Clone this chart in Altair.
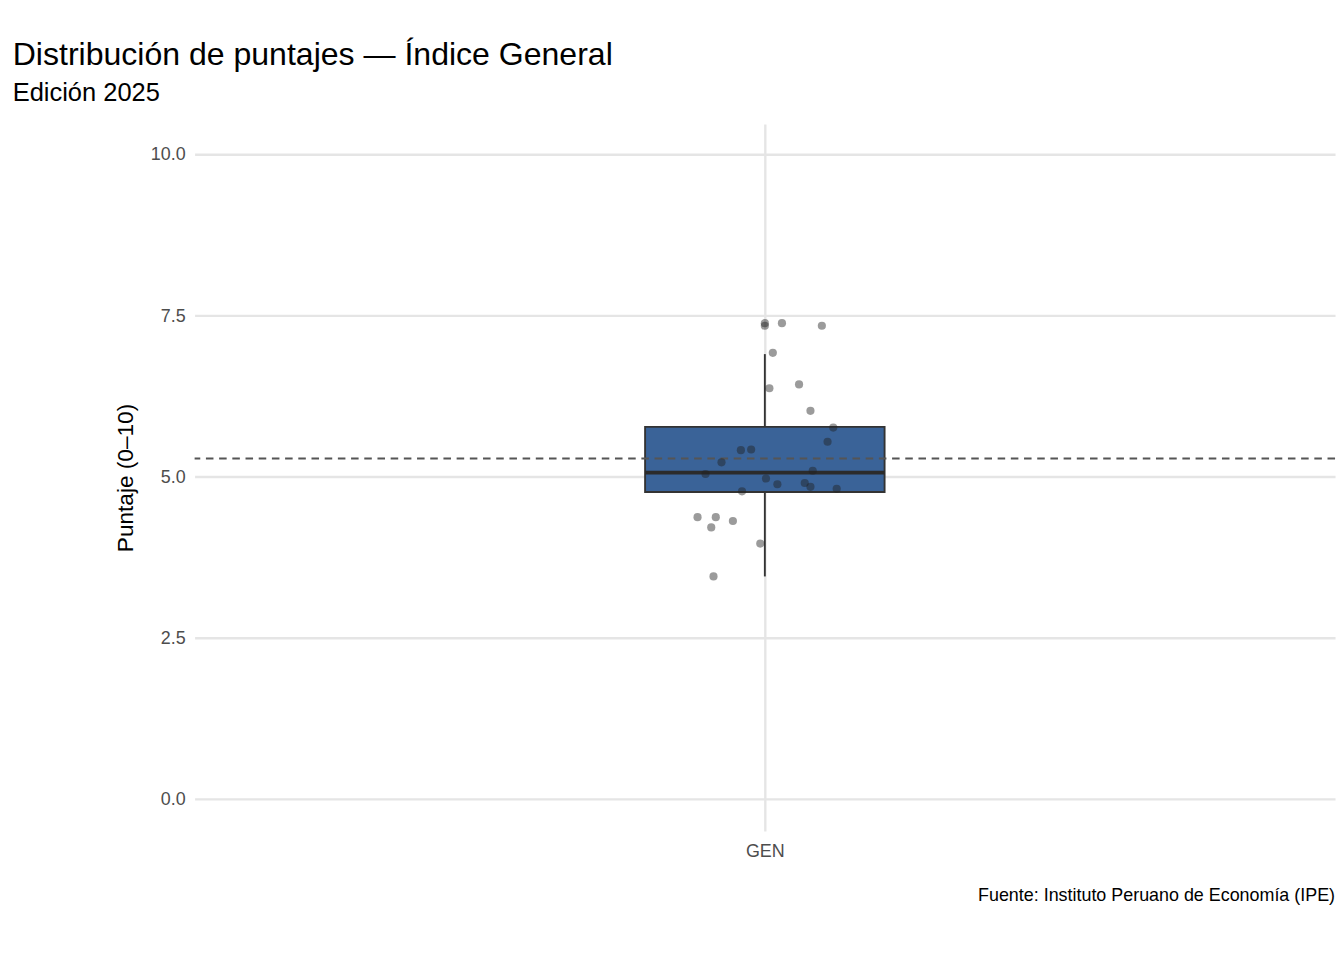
import altair as alt
import pandas as pd

# puntajes (0-10) and horizontal jitter (fraction of the panel width)
scores = [7.38, 7.38, 7.34, 7.34, 6.92, 6.37, 6.43, 6.02, 5.76, 5.54, 5.41, 5.42,
          5.22, 5.04, 5.09, 4.97, 4.88, 4.90, 4.84, 4.81, 4.77, 4.37, 4.37, 4.31,
          4.21, 3.96, 3.45]
jitter = [0.000, 0.015, 0.050, 0.000, 0.007, 0.004, 0.030, 0.040, 0.060, 0.055,
          -0.021, -0.012, -0.038, -0.052, 0.042, 0.001, 0.011, 0.035, 0.040, 0.063,
          -0.020, -0.059, -0.043, -0.028, -0.047, -0.004, -0.045]

# box statistics
box_q1 = [4.76]
box_med = [5.06]
box_q3 = [5.77]
box_lo = [3.45]
box_hi = [6.90]
mean_val = [5.28]

pts = pd.DataFrame({"score": scores, "jx": jitter})
stats = pd.DataFrame({"x0": [-0.105], "x1": [0.105], "xc": [0.0],
                      "q1": box_q1, "med": box_med, "q3": box_q3, "lo": box_lo, "hi": box_hi})
mean_df = pd.DataFrame({"mean": mean_val})

xs = alt.Scale(domain=[-0.5, 0.5], nice=False, zero=False)
ys = alt.Scale(domain=[-0.5, 10.47], nice=False, zero=False)

xaxis = alt.Axis(values=[0], labelExpr="'GEN'", title=None, grid=True, ticks=False,
                 domain=False, labelFontSize=19, labelColor="#4d4d4d", labelPadding=12)
yaxis = alt.Axis(values=[0, 2.5, 5, 7.5, 10], format=".1f", title="Puntaje (0–10)",
                 grid=True, ticks=False, domain=False, labelFontSize=19,
                 labelColor="#4d4d4d", titleFontSize=24, titleFontWeight="normal",
                 titleColor="black", labelPadding=10, titlePadding=14)

base = alt.Chart(stats)
whisk = base.mark_rule(color="#333333", strokeWidth=2).encode(
    x=alt.X("xc:Q", scale=xs, axis=xaxis), y=alt.Y("lo:Q", scale=ys, axis=yaxis), y2="hi:Q")
box = base.mark_rect(fill="#3a6398", stroke="#333333", strokeWidth=2).encode(
    x="x0:Q", x2="x1:Q", y="q1:Q", y2="q3:Q")
median = base.mark_rule(color="#2b2b2b", strokeWidth=4).encode(
    x="x0:Q", x2="x1:Q", y="med:Q")
mean_line = alt.Chart(mean_df).mark_rule(color="#555555", strokeWidth=2, strokeDash=[8, 6]).encode(
    y="mean:Q")
points = alt.Chart(pts).mark_circle(size=75, color="#222222", opacity=0.45).encode(
    x="jx:Q", y="score:Q")
caption = alt.Chart(pd.DataFrame({"t": ["Fuente: Instituto Peruano de Economía (IPE)"]})).mark_text(
    align="right", baseline="bottom", fontSize=19, color="black").encode(
    text="t:N", x=alt.value(1210), y=alt.value(828))

chart = (whisk + box + median + mean_line + points + caption).properties(
    width=1210, height=750,
    padding={"left": 5, "top": 5, "right": 0, "bottom": 0},
    title=alt.TitleParams("Distribución de puntajes — Índice General", subtitle="Edición 2025",
                          anchor="start", fontSize=34, fontWeight="normal", subtitleFontSize=27,
                          subtitleColor="black", offset=20, subtitlePadding=10, dx=-108),
).configure(font="Liberation Sans").configure_view(stroke=None).configure_axis(
    gridColor="#e5e5e5", gridWidth=2.5)

chart.save("out.html", embed_options={"renderer": "svg", "actions": False})
